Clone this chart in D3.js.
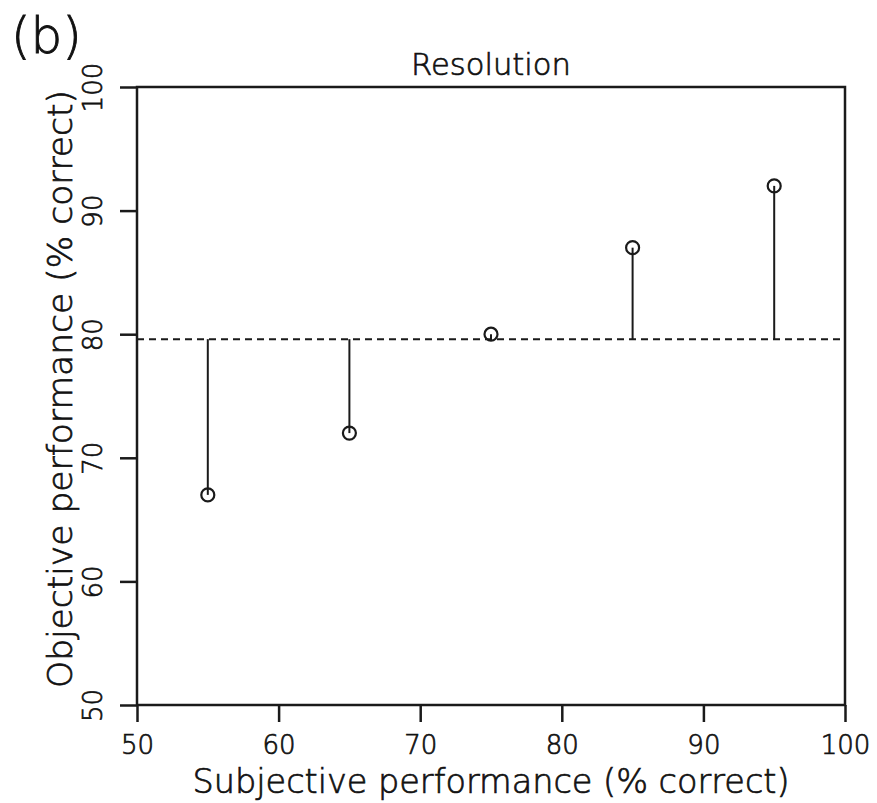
<!DOCTYPE html>
<html>
<head>
<meta charset="utf-8">
<script src="https://cdn.jsdelivr.net/npm/d3@7"></script>
<style>
  html, body { margin: 0; padding: 0; background: #fff; }
  svg { display: block; }
  text { font-family: "DejaVu Sans", sans-serif; font-weight: 300; fill: #111; stroke: #111; stroke-width: 0.7px; }
</style>
</head>
<body>
<svg id="chart" width="877" height="803"></svg>
<script>
// Percent correct per condition
const subjective = [55, 65, 75, 85, 95];
const objective = [67, 72, 80, 87, 92];
const xTicks = [50, 60, 70, 80, 90, 100];
const yTicks = [50, 60, 70, 80, 90, 100];
const panelLabel = "(b)";
const titleText = "Resolution";
const xLabel = "Subjective performance (% correct)";
const yLabel = "Objective performance (% correct)";

const ink = "#1a1a1a";
const margin = { left: 137, right: 32, top: 87, bottom: 98 };
const W = 877, H = 803;

const svg = d3.select("#chart");

const x = d3.scaleLinear().domain([50, 100]).range([margin.left, W - margin.right]);
const y = d3.scaleLinear().domain([50, 100]).range([H - margin.bottom, margin.top]);

const meanObj = d3.mean(objective);

// frame
svg.append("rect")
  .attr("x", x(50)).attr("y", y(100))
  .attr("width", x(100) - x(50)).attr("height", y(50) - y(100))
  .attr("fill", "none").attr("stroke", ink).attr("stroke-width", 2.5);

// bottom axis
const gx = svg.append("g")
  .attr("transform", `translate(0,${y(50)})`)
  .call(d3.axisBottom(x).tickValues(xTicks).tickSize(17).tickPadding(14).tickFormat(d3.format("d")));
gx.select(".domain").remove();
gx.selectAll(".tick line").attr("stroke", ink).attr("stroke-width", 2.5);
gx.selectAll(".tick text")
  .attr("font-size", 26).attr("fill", null)
  .style("font-family", null);

// left axis, labels rotated to read upwards
const gy = svg.append("g")
  .attr("transform", `translate(${x(50)},0)`)
  .call(d3.axisLeft(y).tickValues(yTicks).tickSize(17).tickFormat(d3.format("d")));
gy.select(".domain").remove();
gy.selectAll(".tick line").attr("stroke", ink).attr("stroke-width", 2.5);
gy.selectAll(".tick text")
  .attr("x", null).attr("dy", null)
  .attr("text-anchor", "middle")
  .attr("transform", "translate(-35,0) rotate(-90)")
  .attr("font-size", 26).attr("fill", null);
svg.selectAll(".tick text").attr("font-family", null);
svg.selectAll("g").attr("font-family", null).attr("font-size", null);

// mean reference line
svg.append("line")
  .attr("x1", x(50)).attr("x2", x(100))
  .attr("y1", y(meanObj)).attr("y2", y(meanObj))
  .attr("stroke", ink).attr("stroke-width", 2)
  .attr("stroke-dasharray", "7,5");

const pts = subjective.map((s, i) => ({ s, o: objective[i] }));

// stems from the mean to each point
svg.append("g").selectAll("line").data(pts).join("line")
  .attr("x1", d => x(d.s)).attr("x2", d => x(d.s))
  .attr("y1", y(meanObj)).attr("y2", d => y(d.o))
  .attr("stroke", ink).attr("stroke-width", 2);

// open circle markers
svg.append("g").selectAll("circle").data(pts).join("circle")
  .attr("cx", d => x(d.s)).attr("cy", d => y(d.o)).attr("r", 6.5)
  .attr("fill", "none").attr("stroke", ink).attr("stroke-width", 2.2);

// titles
svg.append("text")
  .attr("x", (x(50) + x(100)) / 2).attr("y", 75)
  .attr("text-anchor", "middle").attr("font-size", 31)
  .attr("textLength", 160).attr("lengthAdjust", "spacingAndGlyphs")
  .text(titleText);

svg.append("text")
  .attr("x", (x(50) + x(100)) / 2).attr("y", 793)
  .attr("text-anchor", "middle").attr("font-size", 33)
  .attr("textLength", 597).attr("lengthAdjust", "spacingAndGlyphs")
  .text(xLabel);

svg.append("text")
  .attr("transform", `translate(72,389) rotate(-90)`)
  .attr("text-anchor", "middle").attr("font-size", 33)
  .attr("textLength", 598).attr("lengthAdjust", "spacingAndGlyphs")
  .text(yLabel);

svg.append("text")
  .attr("x", 11).attr("y", 53)
  .attr("font-size", 50).style("stroke-width", "0.9px")
  .text(panelLabel);
</script>
</body>
</html>
